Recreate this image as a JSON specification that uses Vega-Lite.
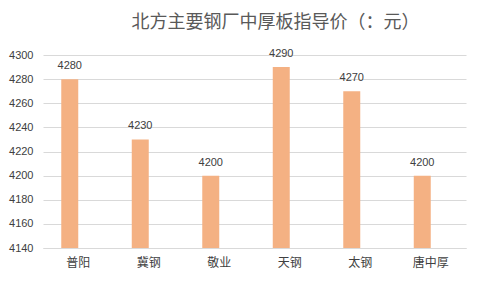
{
  "$schema": "https://vega.github.io/schema/vega-lite/v6.json",
  "width": 423,
  "height": 193,
  "autosize": {"type": "none"},
  "padding": {"left": 43, "top": 55, "right": 14, "bottom": 40},
  "background": "white",
  "title": {
    "text": "北方主要钢厂中厚板指导价（：元）",
    "font": "Noto Sans CJK SC",
    "fontSize": 18,
    "fontWeight": "normal",
    "color": "#595959",
    "anchor": "middle",
    "dx": 21,
    "offset": 16
  },
  "data": {
    "values": [
      {"mill": "普阳", "price": 4280, "s": "a"},
      {"mill": "冀钢", "price": 4230, "s": "a"},
      {"mill": "敬业", "price": 4200, "s": "a"},
      {"mill": "天钢", "price": 4290, "s": "a"},
      {"mill": "太钢", "price": 4270, "s": "a"},
      {"mill": "唐中厚", "price": 4200, "s": "a"}
    ]
  },
  "encoding": {
    "x": {
      "field": "mill",
      "type": "nominal",
      "sort": null,
      "scale": {"paddingInner": 0.518, "paddingOuter": 0.259},
      "axis": {
        "title": null,
        "labelAngle": 0,
        "ticks": false,
        "domainColor": "#d9d9d9",
        "labelColor": "#404040",
        "labelFont": "Noto Sans CJK SC",
        "labelFontSize": 12,
        "labelPadding": 9
      }
    },
    "xOffset": {
      "field": "s",
      "type": "nominal",
      "scale": {"domain": ["a", "b"], "paddingInner": 0, "paddingOuter": 0}
    },
    "y": {
      "field": "price",
      "type": "quantitative",
      "scale": {"domain": [4140, 4300], "zero": false, "nice": false},
      "axis": {
        "title": null,
        "format": "d",
        "values": [4140, 4160, 4180, 4200, 4220, 4240, 4260, 4280, 4300],
        "domain": false,
        "ticks": false,
        "gridColor": "#d9d9d9",
        "labelColor": "#404040",
        "labelFont": "Liberation Sans",
        "labelFontSize": 11,
        "labelPadding": 10
      }
    }
  },
  "layer": [
    {
      "mark": {"type": "bar", "color": "#F4B183"},
      "encoding": {"y2": {"datum": 4140}}
    },
    {
      "mark": {
        "type": "text",
        "baseline": "bottom",
        "dy": -8,
        "font": "Liberation Sans",
        "fontSize": 11,
        "color": "#404040"
      },
      "encoding": {"text": {"field": "price", "type": "quantitative", "format": "d"}}
    }
  ],
  "config": {"view": {"stroke": null}}
}
